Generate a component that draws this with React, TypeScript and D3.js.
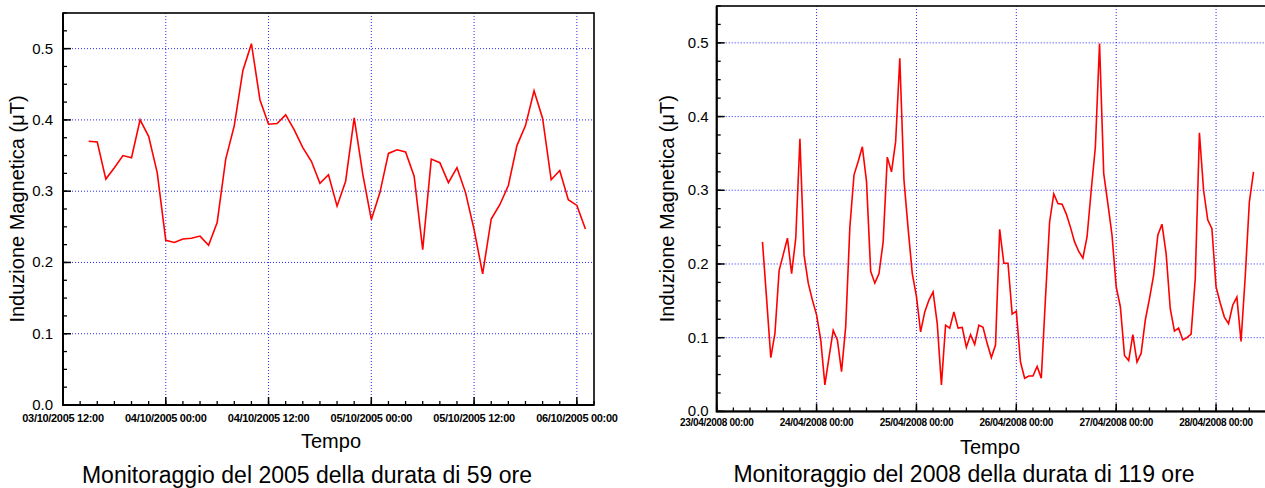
import React, { useEffect, useRef } from "react";
import * as d3 from "d3";

// hourly readings (µT), 2005 campaign starting 03/10/2005 15:00
const values2005 = [
  0.370, 0.369, 0.317, 0.333, 0.350, 0.347, 0.400, 0.377, 0.326, 0.231,
  0.228, 0.233, 0.234, 0.237, 0.224, 0.256, 0.345, 0.392, 0.469, 0.507,
  0.428, 0.394, 0.395, 0.407, 0.386, 0.361, 0.342, 0.311, 0.323, 0.279,
  0.314, 0.403, 0.324, 0.260, 0.298, 0.353, 0.358, 0.355, 0.321, 0.218,
  0.345, 0.340, 0.312, 0.333, 0.298, 0.246, 0.184, 0.261, 0.281, 0.308,
  0.364, 0.392, 0.441, 0.402, 0.316, 0.329, 0.288, 0.280, 0.247,
];

// hourly readings (µT), 2008 campaign starting 23/04/2008 11:00
const values2008 = [
  0.230, 0.152, 0.073, 0.106, 0.191, 0.213, 0.235, 0.187, 0.235, 0.370,
  0.212, 0.174, 0.151, 0.131, 0.097, 0.036, 0.074, 0.110, 0.097, 0.054,
  0.115, 0.250, 0.321, 0.339, 0.359, 0.312, 0.190, 0.174, 0.187, 0.230,
  0.345, 0.325, 0.366, 0.479, 0.314, 0.248, 0.187, 0.156, 0.108, 0.135,
  0.151, 0.162, 0.119, 0.036, 0.117, 0.113, 0.135, 0.113, 0.114, 0.087,
  0.104, 0.091, 0.117, 0.114, 0.092, 0.073, 0.090, 0.247, 0.201, 0.201,
  0.132, 0.136, 0.067, 0.045, 0.048, 0.048, 0.061, 0.045, 0.153, 0.257,
  0.295, 0.282, 0.281, 0.268, 0.250, 0.230, 0.217, 0.208, 0.237, 0.300,
  0.359, 0.499, 0.323, 0.282, 0.239, 0.169, 0.142, 0.076, 0.069, 0.104,
  0.067, 0.079, 0.124, 0.153, 0.185, 0.239, 0.254, 0.214, 0.139, 0.109,
  0.113, 0.097, 0.100, 0.105, 0.180, 0.378, 0.300, 0.260, 0.248, 0.169,
  0.147, 0.128, 0.119, 0.144, 0.155, 0.095, 0.182, 0.284, 0.325,
];

const start2005 = new Date(2005, 9, 3, 15);
const start2008 = new Date(2008, 3, 23, 11);
const yTicks = [0, 0.1, 0.2, 0.3, 0.4, 0.5];
const yLabel = "Induzione Magnetica (\u03bcT)";
const xLabel = "Tempo";
const caption2005 = "Monitoraggio del 2005 della durata di 59 ore";
const caption2008 = "Monitoraggio del 2008 della durata di 119 ore";

const FONT = "'Liberation Sans', Arial, Helvetica, sans-serif";

function drawPanel(root, p) {
  const g = root.append("g");
  const x = d3.scaleTime().domain(p.domain).range([p.left, p.right]);
  const y = d3.scaleLinear().domain([0, 0.55]).range([p.bottom, p.top]);

  const majors = p.major.range(p.domain[0], d3.timeMinute.offset(p.domain[1], 1));
  const minors = p.minor.range(p.domain[0], d3.timeMinute.offset(p.domain[1], 1));
  const yMinor = d3.range(0, 0.5501, 0.025);

  // grid
  g.selectAll("line.hgrid")
    .data(yTicks.slice(1))
    .enter()
    .append("line")
    .attr("x1", p.left)
    .attr("x2", p.right)
    .attr("y1", d => y(d))
    .attr("y2", d => y(d))
    .attr("stroke", "#2a2aff")
    .attr("stroke-width", 1)
    .attr("stroke-dasharray", "1,2");
  g.selectAll("line.vgrid")
    .data(majors.filter(d => x(d) > p.left + 2))
    .enter()
    .append("line")
    .attr("x1", d => x(d))
    .attr("x2", d => x(d))
    .attr("y1", p.top)
    .attr("y2", p.bottom)
    .attr("stroke", "#2a2aff")
    .attr("stroke-width", 1)
    .attr("stroke-dasharray", "1,2");

  // data line
  const line = d3
    .line()
    .x((d, i) => x(d3.timeHour.offset(p.start, i)))
    .y(d => y(d));
  g.append("path")
    .datum(p.values)
    .attr("d", line)
    .attr("fill", "none")
    .attr("stroke", "#ff0000")
    .attr("stroke-width", 1.6)
    .attr("stroke-linejoin", "miter");

  // ticks (inward)
  g.selectAll("line.xminor")
    .data(minors)
    .enter()
    .append("line")
    .attr("x1", d => x(d))
    .attr("x2", d => x(d))
    .attr("y1", p.bottom)
    .attr("y2", p.bottom - 4)
    .attr("stroke", "#000")
    .attr("stroke-width", 1.3);
  g.selectAll("line.xmajor")
    .data(majors)
    .enter()
    .append("line")
    .attr("x1", d => x(d))
    .attr("x2", d => x(d))
    .attr("y1", p.bottom)
    .attr("y2", p.bottom - 8)
    .attr("stroke", "#000")
    .attr("stroke-width", 1.5);
  g.selectAll("line.yminor")
    .data(yMinor)
    .enter()
    .append("line")
    .attr("x1", p.left)
    .attr("x2", p.left + 4)
    .attr("y1", d => y(d))
    .attr("y2", d => y(d))
    .attr("stroke", "#000")
    .attr("stroke-width", 1.3);
  g.selectAll("line.ymajor")
    .data(yTicks)
    .enter()
    .append("line")
    .attr("x1", p.left)
    .attr("x2", p.left + 8)
    .attr("y1", d => y(d))
    .attr("y2", d => y(d))
    .attr("stroke", "#000")
    .attr("stroke-width", 1.5);

  // frame
  g.append("rect")
    .attr("x", p.left)
    .attr("y", p.top)
    .attr("width", p.right - p.left)
    .attr("height", p.bottom - p.top)
    .attr("fill", "none")
    .attr("stroke", "#000")
    .attr("stroke-width", 1.6);
  g.append("path")
    .attr("d", `M${p.left},${p.top}V${p.bottom}H${p.right}`)
    .attr("fill", "none")
    .attr("stroke", "#000")
    .attr("stroke-width", 2);

  // tick labels
  const fmt = d3.timeFormat("%d/%m/%Y %H:%M");
  g.selectAll("text.xlab")
    .data(majors)
    .enter()
    .append("text")
    .attr("x", d => x(d))
    .attr("y", p.bottom + p.xLabOffset)
    .attr("text-anchor", "middle")
    .attr("font-family", FONT)
    .attr("font-weight", "bold")
    .attr("font-size", p.xLabSize)
    .attr("letter-spacing", -0.3)
    .text(d => fmt(d));
  g.selectAll("text.ylab")
    .data(yTicks)
    .enter()
    .append("text")
    .attr("x", p.left - p.yLabGap)
    .attr("y", d => y(d) + 5)
    .attr("text-anchor", "end")
    .attr("font-family", FONT)
    .attr("font-size", 15)
    .text(d => d3.format(".1f")(d));

  // titles
  g.append("text")
    .attr("transform", `translate(${p.yTitleX},${(p.top + p.bottom) / 2}) rotate(-90)`)
    .attr("text-anchor", "middle")
    .attr("font-family", FONT)
    .attr("font-size", 20)
    .text(yLabel);
  g.append("text")
    .attr("x", p.tempoX)
    .attr("y", p.tempoY)
    .attr("text-anchor", "middle")
    .attr("font-family", FONT)
    .attr("font-size", 20)
    .text(xLabel);
  g.append("text")
    .attr("x", p.captionX)
    .attr("y", p.captionY)
    .attr("text-anchor", "middle")
    .attr("font-family", FONT)
    .attr("font-size", 23)
    .text(p.caption);
}

export default function App() {
  const ref = useRef(null);

  useEffect(() => {
    const svg = d3.select(ref.current);
    svg.selectAll("*").remove();

    drawPanel(svg, {
      values: values2005,
      start: start2005,
      domain: [new Date(2005, 9, 3, 12), new Date(2005, 9, 6, 2)],
      major: d3.timeHour.every(12),
      minor: d3.timeHour.every(2),
      left: 63,
      right: 594,
      top: 13,
      bottom: 405,
      xLabOffset: 17,
      xLabSize: 11,
      yLabGap: 10,
      yTitleX: 24,
      tempoX: 331,
      tempoY: 448,
      captionX: 307,
      captionY: 483,
      caption: caption2005,
    });

    drawPanel(svg, {
      values: values2008,
      start: start2008,
      domain: [new Date(2008, 3, 23, 0), new Date(2008, 3, 28, 12)],
      major: d3.timeDay.every(1),
      minor: d3.timeHour.every(4),
      left: 716.7,
      right: 1266,
      top: 6,
      bottom: 411.4,
      xLabOffset: 15,
      xLabSize: 10,
      yLabGap: 8,
      yTitleX: 674,
      tempoX: 990,
      tempoY: 454,
      captionX: 964,
      captionY: 482,
      caption: caption2008,
    });
  }, []);

  return (
    <svg
      ref={ref}
      width={1265}
      height={488}
      style={{ position: "absolute", left: 0, top: 0, background: "#fff" }}
    />
  );
}
